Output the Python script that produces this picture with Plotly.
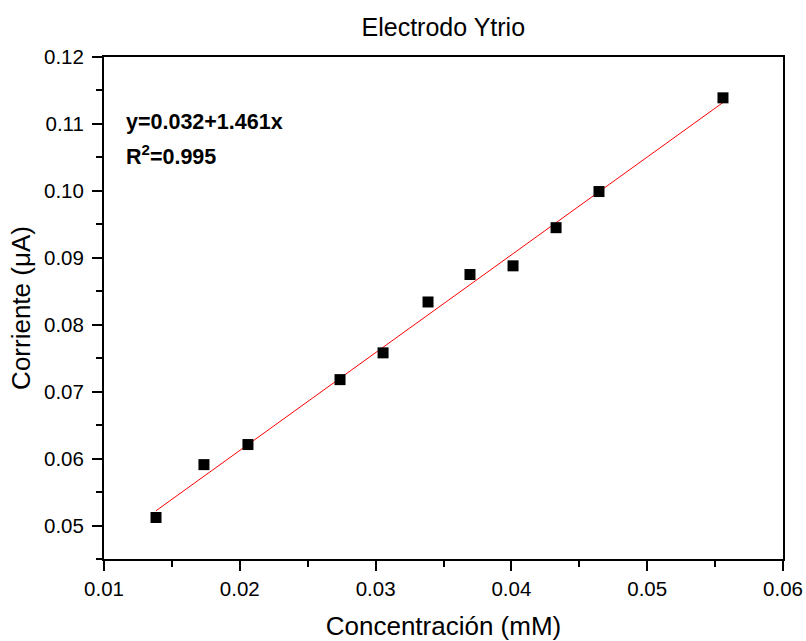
import plotly.graph_objects as go

conc = [0.01383, 0.01736, 0.0206, 0.02738, 0.03055, 0.03386, 0.03695, 0.04012, 0.04329, 0.04645, 0.05558]
corr = [0.0512, 0.0591, 0.0621, 0.0718, 0.0758, 0.0834, 0.0875, 0.0888, 0.0945, 0.0999, 0.1139]
intercept = 0.032
slope = 1.461
x_ticks = [0.01, 0.02, 0.03, 0.04, 0.05, 0.06]
y_ticks = [0.05, 0.06, 0.07, 0.08, 0.09, 0.10, 0.11, 0.12]

font = "Arial, Liberation Sans, sans-serif"

fit_x = [min(conc), max(conc)]
fit_y = [intercept + slope * v for v in fit_x]

fig = go.Figure()
fig.add_trace(go.Scatter(x=fit_x, y=fit_y, mode="lines",
                         line=dict(color="#ff0000", width=1), showlegend=False))
fig.add_trace(go.Scatter(x=conc, y=corr, mode="markers",
                         marker=dict(symbol="square", size=11, color="black"),
                         showlegend=False))

axis_common = dict(showline=True, linecolor="black", linewidth=2, mirror=True,
                   ticks="outside", ticklen=10, tickwidth=1.5, tickcolor="black",
                   showgrid=False, zeroline=False, automargin=False,
                   tickfont=dict(family=font, size=20.5, color="black"),
                   tickformat=".2f")

fig.update_xaxes(range=[0.01, 0.06], tickvals=x_ticks,
                 minor=dict(ticks="outside", ticklen=6, dtick=0.005, tickcolor="black", tickwidth=1.5),
                 title=dict(text="Concentración (mM)", font=dict(family=font, size=26, color="black"), standoff=19),
                 **axis_common)
fig.update_yaxes(range=[0.045, 0.12], tickvals=y_ticks, ticklabelstandoff=4,
                 minor=dict(ticks="outside", ticklen=6, dtick=0.005, tick0=0.045, tickcolor="black", tickwidth=1.5),
                 title=dict(text="Corriente (μA)", font=dict(family=font, size=26, color="black"), standoff=6),
                 **axis_common)

fig.add_annotation(xref="paper", yref="paper", x=0.03, y=0.870, xanchor="left", yanchor="middle",
                   text="<b>y=0.032+1.461x</b>", showarrow=False,
                   font=dict(family=font, size=21.5, color="black"))
fig.add_annotation(xref="paper", yref="paper", x=0.03, y=0.805, xanchor="left", yanchor="middle",
                   text="<b>R<sup>2</sup>=0.995</b>", showarrow=False,
                   font=dict(family=font, size=21.5, color="black"))

fig.update_layout(width=806, height=641,
                  margin=dict(l=104, r=23, t=57, b=82, autoexpand=False),
                  paper_bgcolor="white", plot_bgcolor="white",
                  title=dict(text="Electrodo Ytrio", x=0.55, xanchor="center", y=0.958, yanchor="middle",
                             font=dict(family=font, size=25, color="black")))

fig.write_html("out.html")
